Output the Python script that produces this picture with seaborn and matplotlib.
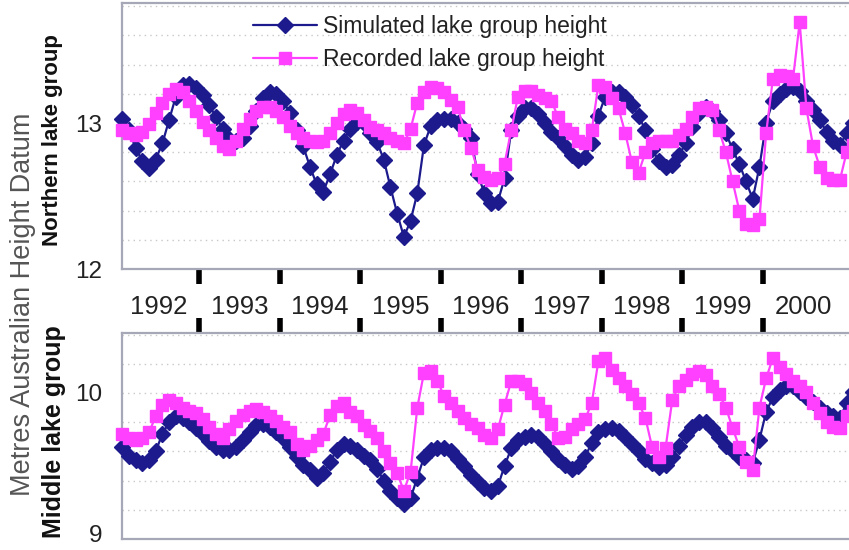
import numpy as np
import pandas as pd
import matplotlib
matplotlib.use("Agg")
import matplotlib.pyplot as plt
import matplotlib.transforms as mtransforms
import seaborn as sns
from matplotlib.ticker import FixedLocator, FixedFormatter, NullFormatter, MultipleLocator
from matplotlib.lines import Line2D

# ---------------- data (monthly, Jan 1992 onwards) ----------------
start_year = 1992
year_labels = ["1992", "1993", "1994", "1995", "1996", "1997", "1998", "1999", "2000"]
series_names = ["Simulated lake group height", "Recorded lake group height"]

north_sim = [13.03, 12.95, 12.83, 12.74, 12.69, 12.75, 12.86, 13.02, 13.18, 13.26,
             13.27, 13.24, 13.19, 13.12, 13.04, 12.96, 12.89, 12.88, 12.90, 12.98,
             13.08, 13.17, 13.21, 13.20, 13.15, 13.07, 12.95, 12.84, 12.70, 12.58,
             12.53, 12.65, 12.78, 12.88, 12.96, 13.01, 13.00, 12.93, 12.87, 12.75,
             12.56, 12.38, 12.22, 12.33, 12.52, 12.85, 12.98, 13.02, 13.03, 13.03,
             13.00, 12.96, 12.90, 12.65, 12.52, 12.45, 12.46, 12.62, 12.95, 13.05,
             13.10, 13.10, 13.06, 13.00, 12.94, 12.90, 12.84, 12.78, 12.75, 12.77,
             12.86, 13.05, 13.18, 13.21, 13.21, 13.18, 13.12, 13.05, 12.95, 12.82,
             12.74, 12.70, 12.71, 12.78, 12.86, 12.97, 13.07, 13.11, 13.08, 13.02,
             12.93, 12.82, 12.72, 12.60, 12.48, 12.70, 13.00, 13.15, 13.20, 13.23,
             13.25, 13.22, 13.15, 13.09, 13.02, 12.94, 12.88, 12.85, 12.93, 13.00]

north_rec = [12.95, 12.93, 12.92, 12.94, 12.99, 13.07, 13.14, 13.20, 13.23, 13.21,
             13.15, 13.08, 13.01, 12.95, 12.90, 12.84, 12.82, 12.88, 12.96, 13.03,
             13.08, 13.11, 13.11, 13.08, 13.04, 12.98, 12.93, 12.90, 12.88, 12.87,
             12.88, 12.93, 13.00, 13.06, 13.09, 13.07, 13.02, 12.97, 12.95, 12.93,
             12.90, 12.88, 12.86, 12.96, 13.14, 13.21, 13.25, 13.24, 13.21, 13.16,
             13.11, 12.95, 12.83, 12.68, 12.63, 12.61, 12.62, 12.72, 12.95, 13.18,
             13.22, 13.22, 13.19, 13.17, 13.15, 13.04, 12.96, 12.93, 12.88, 12.86,
             12.95, 13.26, 13.25, 13.17, 13.10, 12.93, 12.73, 12.66, 12.80, 12.86,
             12.88, 12.88, 12.88, 12.92, 12.96, 13.04, 13.10, 13.11, 13.09, 12.95,
             12.80, 12.60, 12.40, 12.31, 12.30, 12.34, 12.93, 13.30, 13.33, 13.32,
             13.30, 13.69, 13.10, 12.84, 12.70, 12.62, 12.61, 12.61, 12.80, 12.85]

mid_sim = [9.63, 9.57, 9.54, 9.52, 9.54, 9.60, 9.72, 9.80, 9.84, 9.83,
           9.80, 9.76, 9.72, 9.67, 9.63, 9.61, 9.61, 9.63, 9.68, 9.73,
           9.78, 9.79, 9.77, 9.73, 9.69, 9.63, 9.56, 9.51, 9.47, 9.42,
           9.45, 9.53, 9.61, 9.65, 9.64, 9.61, 9.57, 9.54, 9.48, 9.40,
           9.33, 9.28, 9.24, 9.28, 9.42, 9.56, 9.61, 9.62, 9.62, 9.60,
           9.55, 9.50, 9.44, 9.39, 9.35, 9.33, 9.36, 9.50, 9.62, 9.68,
           9.70, 9.71, 9.70, 9.65, 9.60, 9.55, 9.51, 9.48, 9.50, 9.56,
           9.66, 9.73, 9.75, 9.76, 9.74, 9.70, 9.65, 9.60, 9.55, 9.52,
           9.49, 9.51, 9.56, 9.64, 9.71, 9.77, 9.80, 9.80, 9.76, 9.70,
           9.64, 9.60, 9.56, 9.54, 9.52, 9.68, 9.87, 9.97, 10.02, 10.05,
           10.05, 10.01, 9.97, 9.94, 9.90, 9.86, 9.84, 9.83, 9.93, 10.01]

mid_rec = [9.72, 9.69, 9.68, 9.69, 9.73, 9.84, 9.92, 9.95, 9.93, 9.90,
           9.88, 9.86, 9.82, 9.77, 9.72, 9.69, 9.75, 9.81, 9.85, 9.88,
           9.89, 9.87, 9.84, 9.81, 9.77, 9.73, 9.65, 9.61, 9.64, 9.68,
           9.72, 9.85, 9.91, 9.93, 9.87, 9.84, 9.78, 9.74, 9.69, 9.60,
           9.52, 9.45, 9.33, 9.46, 9.90, 10.14, 10.15, 10.08, 9.98, 9.93,
           9.88, 9.83, 9.79, 9.76, 9.71, 9.69, 9.75, 9.92, 10.08, 10.08,
           10.06, 10.00, 9.93, 9.88, 9.79, 9.69, 9.70, 9.75, 9.79, 9.82,
           9.93, 10.22, 10.24, 10.16, 10.10, 10.05, 9.99, 9.93, 9.83, 9.63,
           9.56, 9.62, 9.95, 10.05, 10.09, 10.13, 10.15, 10.12, 10.05, 9.99,
           9.90, 9.76, 9.63, 9.53, 9.47, 9.90, 10.10, 10.24, 10.18, 10.13,
           10.08, 10.05, 10.01, 9.93, 9.86, 9.80, 9.77, 9.76, 9.84, 9.88]

# ---------------- styling ----------------
sns.set_theme(style="white")
plt.rcParams["font.family"] = ["Liberation Sans", "DejaVu Sans"]

SIM_COLOR = "#1c1a8c"
REC_COLOR = "#ff40ff"
SPINE_COLOR = "#a6a8b8"
GRID_COLOR = "#c8c8c8"
TEXT_COLOR = "#222222"
SIM_MS = 7.8
REC_MS = 8.6

W, H = 849, 550
fig = plt.figure(figsize=(W / 100, H / 100), dpi=100)
fig.patch.set_facecolor("white")


def px_box(left, top, right, bottom):
    return [left / W, 1 - bottom / H, (right - left) / W, (bottom - top) / H]


ax_top = fig.add_axes(px_box(122, 3, 849, 269))
ax_bot = fig.add_axes(px_box(122, 333, 849, 539))

months = np.arange(len(north_sim))
t = start_year + (months + 0.5) / 12.0


def frame(sim, rec):
    return pd.DataFrame({
        "time": np.concatenate([t, t]),
        "height": np.concatenate([sim, rec]),
        "series": [series_names[0]] * len(sim) + [series_names[1]] * len(rec),
    })


def draw(ax, sim, rec):
    df = frame(sim, rec)
    sns.lineplot(data=df[df.series == series_names[0]], x="time", y="height", ax=ax,
                 color=SIM_COLOR, marker="D", markersize=SIM_MS, markeredgecolor=SIM_COLOR,
                 markeredgewidth=1, linewidth=1.6, legend=False, clip_on=False, zorder=3)
    sns.lineplot(data=df[df.series == series_names[1]], x="time", y="height", ax=ax,
                 color=REC_COLOR, marker="s", markersize=REC_MS, markeredgecolor=REC_COLOR,
                 markeredgewidth=1, linewidth=1.6, legend=False, clip_on=False, zorder=4)


draw(ax_top, north_sim, north_rec)
draw(ax_bot, mid_sim, mid_rec)

x0 = start_year + 0.04
x1 = x0 + (849 - 122) / 80.5
boundaries = [start_year + k for k in range(1, len(year_labels))]
centers = [start_year + k + 0.5 for k in range(len(year_labels))]

for ax in (ax_top, ax_bot):
    ax.set_xlim(x0, x1)
    ax.set_xlabel("")
    ax.set_ylabel("")
    ax.set_facecolor("white")
    for side in ("left", "bottom", "top"):
        ax.spines[side].set_color(SPINE_COLOR)
        ax.spines[side].set_linewidth(1.6)
    ax.spines["right"].set_visible(False)
    ax.yaxis.set_minor_locator(MultipleLocator(0.2))
    ax.grid(True, which="both", axis="y", color=GRID_COLOR, linestyle=(0, (1, 3)), linewidth=1)
    ax.grid(False, axis="x")
    ax.tick_params(axis="y", which="major", direction="out", length=7, width=3,
                   color="black", labelsize=17.5, pad=7, labelcolor=TEXT_COLOR)
    ax.tick_params(axis="y", which="minor", direction="in", length=3, width=0.8,
                   color=SPINE_COLOR)

ax_top.set_ylim(12, 12 + 266 / 146)
ax_top.yaxis.set_major_locator(FixedLocator([12, 13]))
ax_top.yaxis.set_major_formatter(FixedFormatter(["12", "13"]))

ax_bot.set_ylim(9, 9 + 206 / 146)
ax_bot.yaxis.set_major_locator(FixedLocator([9, 10]))
ax_bot.yaxis.set_major_formatter(FixedFormatter(["9", "10"]))

# year ticks below the upper panel, labels centred in each year
ax_top.xaxis.set_major_locator(FixedLocator(boundaries))
ax_top.xaxis.set_major_formatter(NullFormatter())
ax_top.xaxis.set_minor_locator(FixedLocator(centers))
ax_top.xaxis.set_minor_formatter(FixedFormatter(year_labels))
ax_top.tick_params(axis="x", which="major", direction="out", length=11, width=4,
                   color="black", bottom=True, top=False)
ax_top.tick_params(axis="x", which="minor", length=0, pad=19, labelsize=18.5,
                   labelcolor=TEXT_COLOR, bottom=True, top=False)

# year ticks above the lower panel
ax_bot.xaxis.set_major_locator(FixedLocator(boundaries))
ax_bot.xaxis.set_major_formatter(NullFormatter())
ax_bot.tick_params(axis="x", which="major", direction="out", length=11, width=4,
                   color="black", bottom=False, top=True, labelbottom=False, labeltop=False)

# keep the bottom "9" label inside the picture
fig.canvas.draw()
for lab in ax_bot.get_yticklabels():
    if lab.get_text() == "9":
        lab.set_transform(lab.get_transform() +
                          mtransforms.ScaledTranslation(0, 5 / 100, fig.dpi_scale_trans))

# legend
handles = [
    Line2D([], [], color=SIM_COLOR, marker="D", markersize=SIM_MS, linewidth=1.6),
    Line2D([], [], color=REC_COLOR, marker="s", markersize=REC_MS, linewidth=1.6),
]
fig.legend(handles, series_names, loc="upper left",
           bbox_to_anchor=(253 / W, 1 - 15 / H), frameon=False, fontsize=16.5,
           handlelength=2.8, handletextpad=0.26, borderpad=0, borderaxespad=0,
           labelspacing=0.42, labelcolor=TEXT_COLOR)

# axis titles
fig.text(23 / W, 1 - 304 / H, "Metres Australian Height Datum", rotation=90,
         ha="center", va="center", fontsize=19.5, color="#555555")
fig.text(53 / W, 1 - 140 / H, "Northern lake group", rotation=90,
         ha="center", va="center", fontsize=16, fontweight="bold", color="#111111")
fig.text(54 / W, 1 - 432 / H, "Middle lake group", rotation=90,
         ha="center", va="center", fontsize=18, fontweight="bold", color="#111111")

fig.savefig("out.png", dpi=100, facecolor="white")
